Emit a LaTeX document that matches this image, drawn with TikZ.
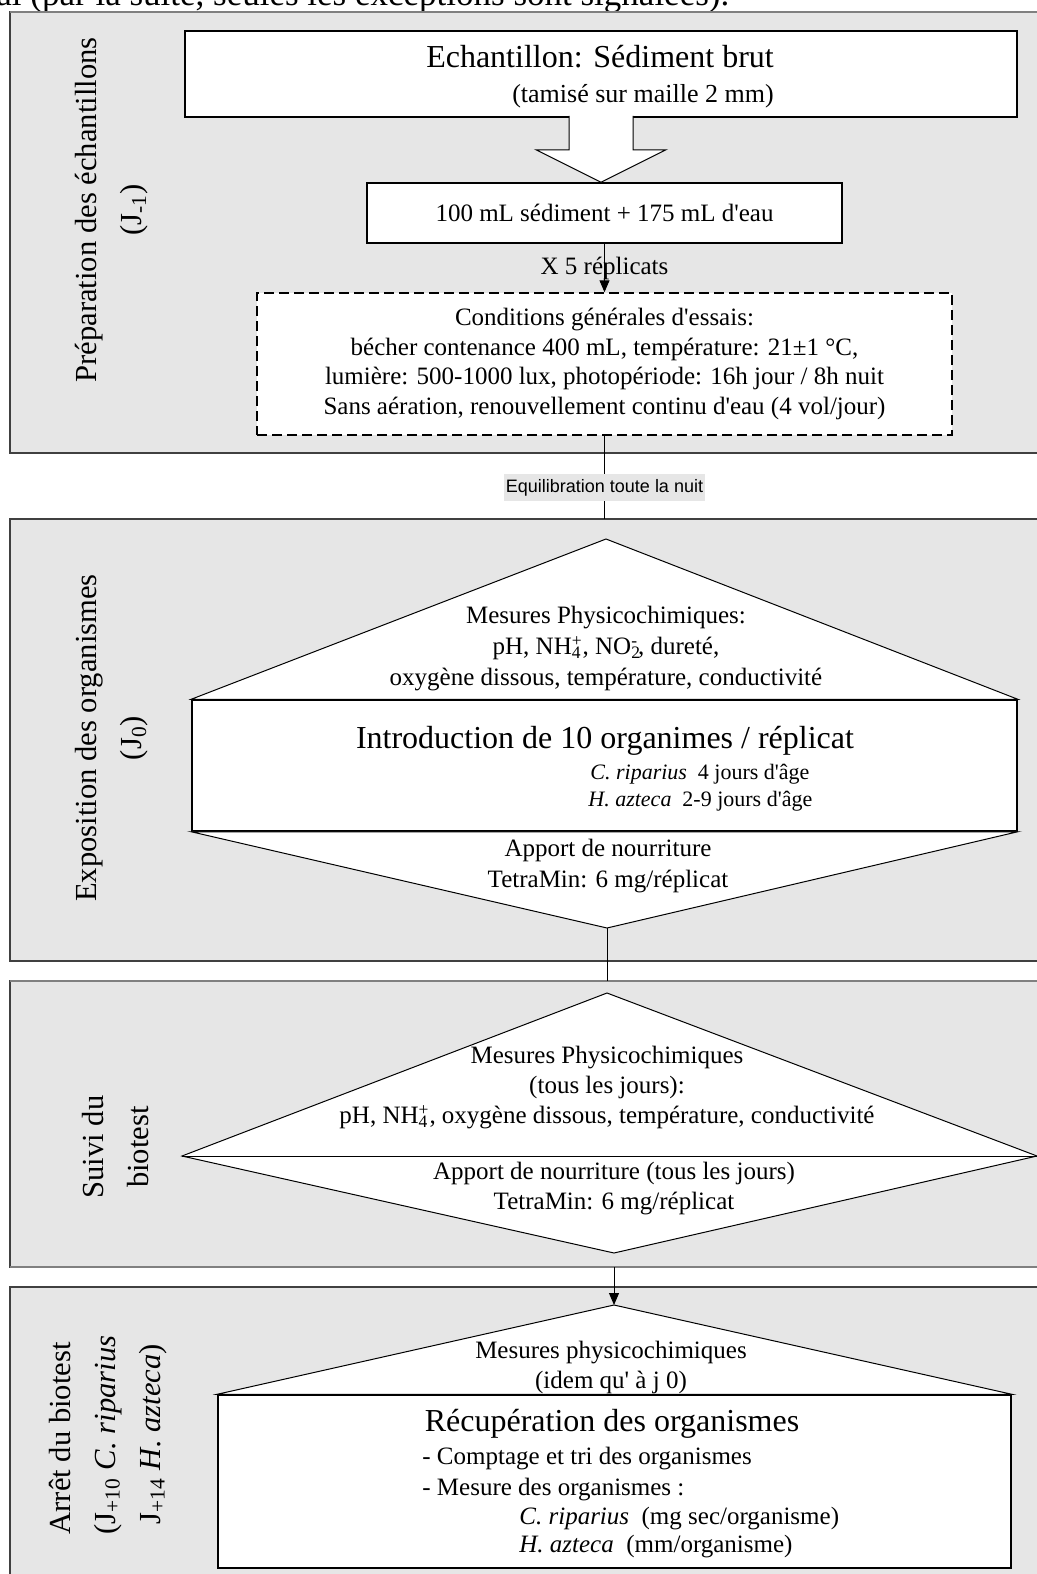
\documentclass[tikz,border=0pt]{standalone}
\usepackage{fontspec}
\setmainfont{Liberation Serif}
\newfontfamily\notefont{Liberation Sans}
\usetikzlibrary{positioning,arrows.meta,calc}
\definecolor{panelgray}{RGB}{230,230,230}
\newcommand{\ionsub}[2]{\rlap{\textsubscript{#1}}\textsuperscript{#2}}
\newcommand{\apos}{\textquotesingle}

\begin{document}
\begin{tikzpicture}[x=0.5pt,y=-0.5pt,
    panel/.style={fill=panelgray,draw=black!75,line width=0.6pt},
    paneledge/.style={draw=black!50,line width=1pt},
    stepbox/.style={draw,fill=white,line width=0.75pt,inner sep=0pt},
    shapeline/.style={draw,fill=white,line width=0.5pt},
    thinline/.style={draw,line width=0.5pt},
    sidelabel/.style={rotate=90,align=center,font=\fontsize{15.3}{22.5}\selectfont},
    bodytext/.style={align=center,font=\fontsize{12.5}{15}\selectfont},
    titletext/.style={font=\fontsize{16}{19}\selectfont},
    speciestext/.style={anchor=west,inner sep=0pt,font=\fontsize{11}{13}\selectfont},
    listtext/.style={anchor=west,inner sep=0pt,font=\fontsize{12.5}{15}\selectfont},
    notelabel/.style={fill=panelgray,inner xsep=1pt,inner ysep=2.5pt,font=\notefont\fontsize{9}{11}\selectfont}]
    \useasboundingbox (0,0) rectangle (1037,1574);
    \clip (0,0) rectangle (1037,1574);

    % page text above
    \node[anchor=base west,inner sep=0pt,font=\fontsize{17.5}{20}\selectfont] (pagetext) at (-4,5) {al (par la suite, seules les exceptions sont signalées).};

    % Preparation
    \draw[panel] (10,12) coordinate (p1nw) rectangle (1060,453) coordinate (p1se);
    \draw[paneledge] (p1nw) -- (p1nw -| p1se);
    \node[sidelabel] (prepLabel) at (112,210) {Préparation des échantillons\\(J\textsubscript{-1})};
    \node[stepbox,minimum width=416pt,minimum height=43pt] (sample) at (601,74) {};
    \node[titletext] (sampleTitle) at (600,57) {Echantillon: Sédiment brut};
    \node[bodytext,font=\fontsize{13}{15}\selectfont] (sampleSieve) at (643,96) {(tamisé sur maille 2 mm)};
    \node[stepbox,bodytext,minimum width=237.5pt,minimum height=30pt] (mix) at (604.5,213) {100 mL sédiment + 175 mL d\apos eau};
    \draw[shapeline] ($(sample.south)+(-32,-2)$) -- ++(0,34) -- ++(-33,0) -- (sample.south |- mix.north)
        -- ($(sample.south)+(65,32)$) -- ++(-33,0) -- ($(sample.south)+(32,-2)$);
    \node[stepbox,bodytext,dash pattern=on 5pt off 2.5pt,minimum width=347.5pt,minimum height=71pt,
        font=\fontsize{12.5}{14.85}\selectfont] (cond) at (604.5,364)
        {Conditions générales d\apos essais:\\bécher contenance 400 mL, température: 21±1 °C,\\lumière: 500-1000 lux, photopériode: 16h jour / 8h nuit\\Sans aération, renouvellement continu d\apos eau (4 vol/jour)};
    \draw[thinline,-{Triangle[length=6pt,width=5pt]}] (mix.south) -- node[bodytext] (replicates) {X 5 réplicats} (cond.north);

    % Exposition
    \draw[panel] (10,519) coordinate (p2nw) rectangle (1060,961) coordinate (p2se);
    \draw[thinline] (cond.south) -- node[notelabel,pos=0.62] (overnight) {Equilibration toute la nuit} (cond.south |- p2nw);
    \node[sidelabel] (expoLabel) at (112,738) {Exposition des organismes\\(J\textsubscript{0})};
    \node[stepbox,minimum width=412.5pt,minimum height=65.5pt] (intro) at (604.5,765.5) {};
    \coordinate (expoTop) at (606,539);
    \coordinate (expoBot) at (607,928);
    \draw[shapeline] (intro.north west) -- (expoTop) -- (intro.north east) -- cycle;
    \draw[shapeline] (intro.south west) -- (expoBot) -- (intro.south east) -- cycle;
    \node[bodytext,font=\fontsize{12.5}{15.5}\selectfont] (expoMeasures) at (606,649) {Mesures Physicochimiques:\\pH, NH\ionsub{4}{+}, NO\ionsub{2}{-}, dureté,\\oxygène dissous, température, conductivité};
    \node[titletext] (introTitle) at (605,741) {Introduction de 10 organimes / réplicat};
    \node[speciestext] (introCrip) at (590,774) {\textit{C. riparius}~~4 jours d\apos âge};
    \node[speciestext] (introHaz) at (588,801) {\textit{H. azteca}~~2-9 jours d\apos âge};
    \node[bodytext,font=\fontsize{12.5}{15.5}\selectfont] (expoFood) at (608,866) {Apport de nourriture\\TetraMin: 6 mg/réplicat};

    % Suivi
    \draw[panel] (10,981) coordinate (p3nw) rectangle (1060,1267) coordinate (p3se);
    \draw[paneledge] (p3nw) -- (p3nw -| p3se);
    \draw[paneledge] (p3nw |- p3se) -- (p3se);
    \draw[thinline] (expoBot) -- (expoBot |- p3nw);
    \node[sidelabel] (followLabel) at (116,1147) {Suivi du\\biotest};
    \coordinate (followTop) at (607,993);
    \coordinate (followLeft) at (182,1156);
    \coordinate (followRight) at (1037,1156);
    \coordinate (followBot) at (614,1253);
    \draw[shapeline] (followTop) -- (followRight) -- (followBot) -- (followLeft) -- cycle;
    \draw[thinline] (followLeft) -- (followRight);
    \node[bodytext] (followMeasures) at (607,1088) {Mesures Physicochimiques\\(tous les jours):\\pH, NH\ionsub{4}{+}, oxygène dissous, température, conductivité};
    \node[bodytext] (followFood) at (614,1189) {Apport de nourriture (tous les jours)\\TetraMin: 6 mg/réplicat};

    % Arret
    \draw[panel] (10,1287) coordinate (p4nw) rectangle (1060,1620) coordinate (p4se);
    \node[sidelabel,align=left] (endLabel) at (108,1435) {Arrêt du biotest\\(J\textsubscript{+10} \textit{C. riparius}\\\phantom{(}J\textsubscript{+14} \textit{H. azteca})};
    \node[stepbox,minimum width=396.5pt,minimum height=86.5pt] (harvest) at (614.5,1481.5) {};
    \coordinate (endTop) at (614,1305);
    \draw[shapeline] (harvest.north west) -- (endTop) -- (harvest.north east) -- cycle;
    \draw[thinline,-{Triangle[length=6pt,width=5pt]}] (followBot |- p3se) -- (endTop);
    \node[bodytext] (endMeasures) at (611,1367) {Mesures physicochimiques\\(idem qu\apos{} à j 0)};
    \node[titletext] (harvestTitle) at (612,1424) {Récupération des organismes};
    \node[listtext] (harvestCount) at (422,1459) {- Comptage et tri des organismes};
    \node[listtext] (harvestSize) at (422,1490) {- Mesure des organismes :};
    \node[listtext] (harvestCrip) at (519,1519) {\textit{C. riparius}~~(mg sec/organisme)};
    \node[listtext] (harvestHaz) at (519,1547) {\textit{H. azteca}~~(mm/organisme)};
\end{tikzpicture}
\end{document}
